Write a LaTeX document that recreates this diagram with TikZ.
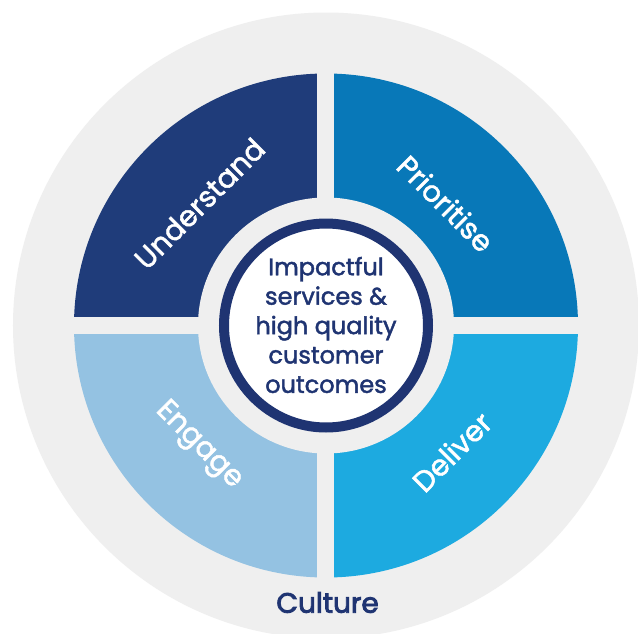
\documentclass[tikz,border=0pt]{standalone}
\usepackage{fontspec}
\setmainfont{Poppins}
\newfontfamily\mediumfont[FakeBold=1.8]{Poppins}
\newfontfamily\semiboldfont[FakeBold=3]{Poppins}
\definecolor{understandblue}{HTML}{1F3C7A}
\definecolor{prioritiseblue}{HTML}{0878B8}
\definecolor{engageblue}{HTML}{94C2E2}
\definecolor{deliverblue}{HTML}{1DAAE0}
\definecolor{ringgray}{HTML}{EFEFEF}
\definecolor{inkblue}{HTML}{1F3472}
\tikzset{
  quadlabel/.style={text=white, font=\mediumfont\fontsize{29}{29}\selectfont, inner sep=0pt},
  hubtext/.style={text=inkblue, align=center, font=\mediumfont\fontsize{24}{29.4}\selectfont, inner sep=0pt},
}
\begin{document}
\begin{tikzpicture}[x=1pt,y=1pt]
\useasboundingbox (-326,-307.5) rectangle (312,325.5);
\fill[white] (-326,-307.5) rectangle (312,325.5);
% outer ring
\fill[ringgray] (0,0) circle (313);
% four quadrants
\fill[prioritiseblue] (0,0) -- (0:252) arc (0:90:252) -- cycle;
\fill[understandblue] (0,0) -- (90:252) arc (90:180:252) -- cycle;
\fill[engageblue] (0,0) -- (180:252) arc (180:270:252) -- cycle;
\fill[deliverblue] (0,0) -- (270:252) arc (270:360:252) -- cycle;
\fill[ringgray] (-8.5,-254) rectangle (8.5,254);
\fill[ringgray] (-254,-8.5) rectangle (254,8.5);
\fill[ringgray] (0,0) circle (128);
% hub
\node[circle, fill=white, draw=inkblue, line width=10pt, minimum size=204pt, inner sep=0pt] (hub) at (0,0) {};
\node[hubtext] (hublabel) at (0,0.5) {Impactful\\services \&\\high quality\\customer\\outcomes};

\node[quadlabel, rotate=45] (understand) at (-126.6,122) {Understand};
\node[quadlabel, rotate=-45] (prioritise) at (119.7,122) {Prioritise};
\node[quadlabel, rotate=-45] (engage) at (-127.4,-120.2) {Engage};
\node[quadlabel, rotate=45] (deliver) at (125.8,-126.3) {Deliver};
\node[text=inkblue, font=\semiboldfont\fontsize{28}{28}\selectfont] (culture) at (1.6,-277) {Culture};

\end{tikzpicture}
\end{document}
